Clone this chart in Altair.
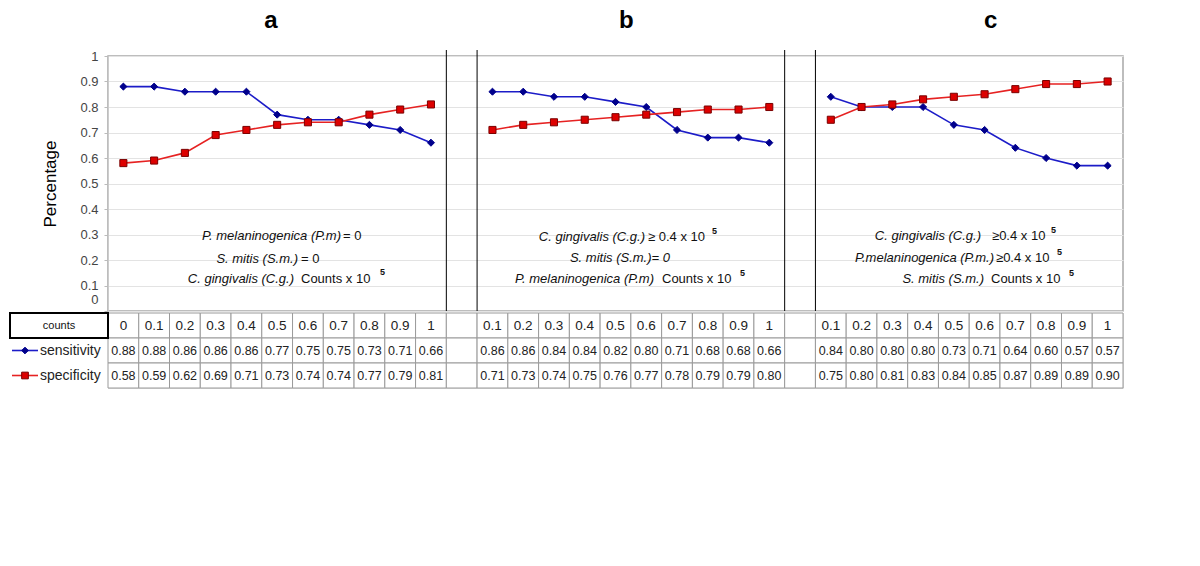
import altair as alt
import pandas as pd

# ---------------- data ----------------
panel_titles = ["a", "b", "c"]
counts_a = ["0", "0.1", "0.2", "0.3", "0.4", "0.5", "0.6", "0.7", "0.8", "0.9", "1"]
counts_b = ["0.1", "0.2", "0.3", "0.4", "0.5", "0.6", "0.7", "0.8", "0.9", "1"]
counts_c = ["0.1", "0.2", "0.3", "0.4", "0.5", "0.6", "0.7", "0.8", "0.9", "1"]

sens_a = [0.88, 0.88, 0.86, 0.86, 0.86, 0.77, 0.75, 0.75, 0.73, 0.71, 0.66]
spec_a = [0.58, 0.59, 0.62, 0.69, 0.71, 0.73, 0.74, 0.74, 0.77, 0.79, 0.81]
sens_b = [0.86, 0.86, 0.84, 0.84, 0.82, 0.80, 0.71, 0.68, 0.68, 0.66]
spec_b = [0.71, 0.73, 0.74, 0.75, 0.76, 0.77, 0.78, 0.79, 0.79, 0.80]
sens_c = [0.84, 0.80, 0.80, 0.80, 0.73, 0.71, 0.64, 0.60, 0.57, 0.57]
spec_c = [0.75, 0.80, 0.81, 0.83, 0.84, 0.85, 0.87, 0.89, 0.89, 0.90]

series_names = ["sensitivity", "specificity"]
row_names = ["counts", "sensitivity", "specificity"]
y_ticks = [0, 0.1, 0.2, 0.3, 0.4, 0.5, 0.6, 0.7, 0.8, 0.9, 1]

# ---------------- build tables ----------------
panels = [
    ("a", counts_a, sens_a, spec_a),
    ("b", counts_b, sens_b, spec_b),
    ("c", counts_c, sens_c, spec_c),
]
points, cells, seps, titles = [], [], [], []
idx = 0
for k, (p, cts, se, sp) in enumerate(panels):
    start = idx
    for c, s1, s2 in zip(cts, se, sp):
        points.append(dict(idx=idx, panel=p, series="sensitivity", value=s1))
        points.append(dict(idx=idx, panel=p, series="specificity", value=s2))
        cells.append(dict(idx=idx, row="counts", text=c))
        cells.append(dict(idx=idx, row="sensitivity", text=f"{s1:.2f}"))
        cells.append(dict(idx=idx, row="specificity", text=f"{s2:.2f}"))
        idx += 1
    titles.append(dict(idx=(start + idx - 1) / 2 + (0.7 if p == "c" else (-0.15 if p == "b" else -0.2)), title=p))
    if k < len(panels) - 1:
        for r in row_names:
            cells.append(dict(idx=idx, row=r, text=""))
        seps.append(dict(x=idx - 0.5))
        seps.append(dict(x=idx + 0.5))
        idx += 1
N = idx

df = pd.DataFrame(points)
cells_df = pd.DataFrame(cells)
seps_df = pd.DataFrame(seps)
titles_df = pd.DataFrame(titles)

# ---------------- geometry ----------------
W, H = 1015, 255
X0, Y0 = 107, 55          # plot-area origin on the page (for annotation placement)
COL = W / N

def to_idx(px):
    return (px - X0) / COL - 0.5

def to_val(py):
    return (Y0 + H - py) / H

FONT = "Liberation Sans"
xscale = alt.Scale(domain=[-0.5, N - 0.5], nice=False, zero=False)
yscale = alt.Scale(domain=[0, 1], nice=False)
color_scale = alt.Scale(domain=series_names, range=["#1c1cc8", "#e62222"])
fill_scale = alt.Scale(domain=series_names, range=["#00008c", "#dd0000"])
stroke_scale = alt.Scale(domain=series_names, range=["#00008c", "#7a0000"])
shape_scale = alt.Scale(domain=series_names, range=["diamond", "square"])

y_axis = alt.Axis(
    values=y_ticks, format="~g", title="Percentage", titleFont=FONT, titleFontSize=17,
    titleFontWeight="normal", titleColor="#000", titlePadding=20,
    labelFont=FONT, labelFontSize=13, labelColor="#444", labelPadding=6,
    labelOffset={"expr": "datum.value == 0 ? -12 : 0"},
    labelOverlap=False, labelFlush=False,
    tickSize=4, tickColor="#bbb", domainColor="#ccc", gridColor="#e3e3e3",
)

# ---------------- annotations ----------------
ital = [
    ("P. melaninogenica (P.m)", 340, 235), ("S. mitis (S.m.)", 297, 258), ("C. gingivalis (C.g.)", 293, 278),
    ("C. gingivalis (C.g.)", 644, 236), ("S. mitis  (S.m.)= 0", 669, 257), ("P. melaninogenica (P.m)", 653, 278),
    ("C. gingivalis (C.g.)", 980, 235), ("P.melaninogenica (P.m.)", 993, 257), ("S. mitis (S.m.)", 983, 278),
]
norm = [
    ("= 0", 342, 235), ("= 0", 300, 258), ("Counts x 10", 300, 278),
    ("\u2265 0.4 x 10", 647, 236), ("Counts x 10", 661, 278),
    ("\u22650.4 x 10", 991, 235), ("\u22650.4 x 10", 995, 257), ("Counts x 10", 990, 278),
]
sups = [("5", 379, 271), ("5", 711, 230), ("5", 739, 272), ("5", 1050, 229), ("5", 1056, 251), ("5", 1068, 272)]

def ann_df(lst):
    return pd.DataFrame([dict(t=t, x=to_idx(x), y=to_val(y)) for t, x, y in lst])

base_x = alt.X("x:Q", scale=xscale, axis=None)
base_y = alt.Y("y:Q", scale=yscale, axis=y_axis)

ann_ital = alt.Chart(ann_df(ital)).mark_text(
    align="right", baseline="middle", fontStyle="italic", fontSize=13, font=FONT, color="#111"
).encode(x=base_x, y=base_y, text="t:N")
ann_norm = alt.Chart(ann_df(norm)).mark_text(
    align="left", baseline="middle", fontSize=13, font=FONT, color="#111"
).encode(x=base_x, y=base_y, text="t:N")
ann_sup = alt.Chart(ann_df(sups)).mark_text(
    align="left", baseline="middle", fontSize=9, fontWeight="bold", font=FONT, color="#111"
).encode(x=base_x, y=base_y, text="t:N")

# ---------------- plot ----------------
lines = alt.Chart(df).mark_line(strokeWidth=1.6).encode(
    x=alt.X("idx:Q", scale=xscale, axis=None),
    y=alt.Y("value:Q", scale=yscale, axis=y_axis),
    color=alt.Color("series:N", scale=color_scale, legend=None),
    detail="panel:N",
)
marks = alt.Chart(df).mark_point(filled=True, size=50, strokeWidth=1, opacity=1).encode(
    x=alt.X("idx:Q", scale=xscale, axis=None),
    y=alt.Y("value:Q", scale=yscale, axis=y_axis),
    shape=alt.Shape("series:N", scale=shape_scale, legend=None),
    fill=alt.Fill("series:N", scale=fill_scale, legend=None),
    stroke=alt.Stroke("series:N", scale=stroke_scale, legend=None),
)
separators = alt.Chart(seps_df).mark_rule(color="#000", strokeWidth=1).encode(
    x=alt.X("x:Q", scale=xscale, axis=None), y=alt.value(-6), y2=alt.value(H)
)
title_marks = alt.Chart(titles_df).mark_text(
    fontSize=24, fontWeight="bold", font=FONT, color="#000", baseline="middle"
).encode(x=alt.X("idx:Q", scale=xscale, axis=None), y=alt.value(-35), text="title:N")

plot = alt.layer(separators, lines, marks, ann_ital, ann_norm, ann_sup, title_marks).properties(
    width=W, height=H, view=alt.ViewBackground(stroke="#a8a8a8", strokeWidth=1.5)
)

# ---------------- data table ----------------
row_scale = alt.Scale(domain=row_names, paddingInner=0, paddingOuter=0)
tbl_y = alt.Y("row:N", scale=row_scale, axis=None)

cell_rects = alt.Chart(cells_df).transform_calculate(
    x0="datum.idx - 0.5", x1="datum.idx + 0.5"
).mark_rect(fill="white", stroke="#9a9a9a", strokeWidth=1).encode(
    x=alt.X("x0:Q", scale=xscale, axis=None), x2="x1:Q", y=tbl_y
)
cell_text = alt.Chart(cells_df).transform_filter("datum.row != 'counts'").mark_text(
    fontSize=12.5, font=FONT, color="#222"
).encode(x=alt.X("idx:Q", scale=xscale, axis=None), y=tbl_y, text="text:N")
head_text = alt.Chart(cells_df).transform_filter("datum.row == 'counts'").mark_text(
    fontSize=13.5, font=FONT, color="#222"
).encode(x=alt.X("idx:Q", scale=xscale, axis=None), y=tbl_y, text="text:N")

leg_df = pd.DataFrame({"row": series_names, "series": series_names})
counts_df = pd.DataFrame({"row": ["counts"], "label": ["counts"]})

counts_box = alt.Chart(counts_df).mark_rect(fill="white", stroke="#000", strokeWidth=2).encode(
    x=alt.value(-98), x2=alt.value(0), y=tbl_y
)
counts_lbl = alt.Chart(counts_df).mark_text(fontSize=11, font=FONT, color="#111").encode(
    x=alt.value(-49), y=tbl_y, text="label:N"
)
leg_line = alt.Chart(leg_df).mark_rule(strokeWidth=1.6).encode(
    x=alt.value(-96), x2=alt.value(-70), y=tbl_y,
    color=alt.Color("series:N", scale=color_scale, legend=None),
)
leg_pt = alt.Chart(leg_df).mark_point(filled=True, size=45, strokeWidth=1, opacity=1).encode(
    x=alt.value(-83), y=tbl_y,
    shape=alt.Shape("series:N", scale=shape_scale, legend=None),
    fill=alt.Fill("series:N", scale=fill_scale, legend=None),
    stroke=alt.Stroke("series:N", scale=stroke_scale, legend=None),
)
leg_txt = alt.Chart(leg_df).mark_text(align="left", fontSize=14, font=FONT, color="#222").encode(
    x=alt.value(-68), y=tbl_y, text="series:N"
)

table = alt.layer(cell_rects, cell_text, head_text, counts_box, counts_lbl, leg_line, leg_pt, leg_txt).properties(
    width=W, height=75
)

chart = alt.vconcat(plot, table, spacing=-4).properties(padding=0).configure_view(stroke=None).configure(
    font=FONT
)

chart.save("out.html", embed_options={"renderer": "svg", "actions": False})
